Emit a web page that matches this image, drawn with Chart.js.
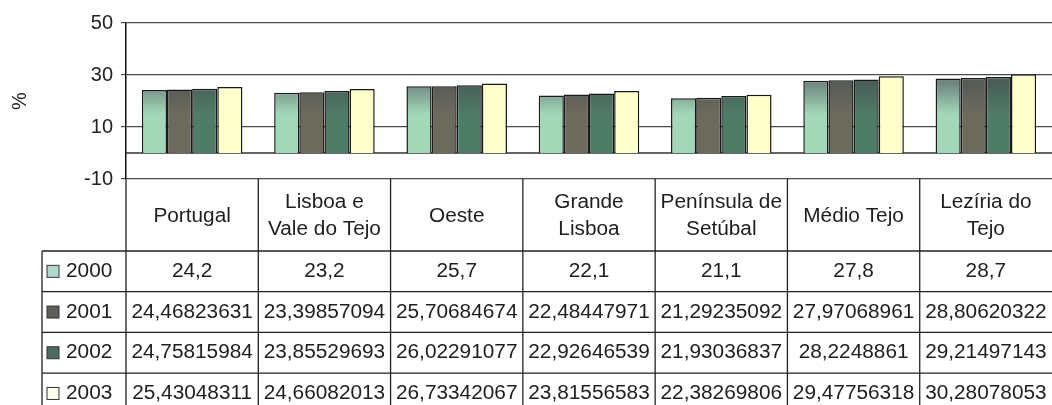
<!DOCTYPE html>
<html>
<head>
<meta charset="utf-8">
<script src="https://cdn.jsdelivr.net/npm/chart.js@4/dist/chart.umd.min.js"></script>
<style>
  body { margin: 0; background: #fff; }
  #wrap { width: 1052px; height: 405px; }
</style>
</head>
<body>
<div id="wrap"><canvas id="myChart"></canvas></div>
<script>
// categorias (linhas do cabeçalho da tabela)
const regioes = [
  ["Portugal"],
  ["Lisboa e", "Vale do Tejo"],
  ["Oeste"],
  ["Grande", "Lisboa"],
  ["Península de", "Setúbal"],
  ["Médio Tejo"],
  ["Lezíria do", "Tejo"]
];
const anos = ["2000", "2001", "2002", "2003"];
const v2000 = [24.2, 23.2, 25.7, 22.1, 21.1, 27.8, 28.7];
const v2001 = [24.46823631, 23.39857094, 25.70684674, 22.48447971, 21.29235092, 27.97068961, 28.80620322];
const v2002 = [24.75815984, 23.85529693, 26.02291077, 22.92646539, 21.93036837, 28.2248861, 29.21497143];
const v2003 = [25.43048311, 24.66082013, 26.73342067, 23.81556583, 22.38269806, 29.47756318, 30.28078053];
const yTicks = [-10, 10, 30, 50];

const FONT = '"Liberation Sans", Arial, sans-serif';
const SX = 1.04; // letra um pouco mais larga como no original

function gradBar(ctx, top, bottom) {
  const c = ctx.chart;
  const area = c.chartArea;
  if (!area) return top;
  const ys = c.scales.y;
  const g = c.ctx.createLinearGradient(0, ys.getPixelForValue(27), 0, ys.getPixelForValue(0));
  g.addColorStop(0, top);
  g.addColorStop(0.45, bottom);
  g.addColorStop(1, bottom);
  return g;
}

function txt(ctx, s, x, y, align) {
  ctx.save();
  ctx.translate(x, y);
  ctx.scale(SX, 1);
  ctx.textAlign = align;
  ctx.fillText(s, 0, 0);
  ctx.restore();
}

// linha do zero
const zeroLine = {
  id: 'zeroLine',
  beforeDatasetsDraw(chart) {
    const c = chart.ctx, a = chart.chartArea;
    const y = chart.scales.y.getPixelForValue(0);
    c.save();
    c.strokeStyle = '#333';
    c.lineWidth = 1.5;
    c.beginPath();
    c.moveTo(a.left, y);
    c.lineTo(a.right, y);
    c.stroke();
    c.restore();
  }
};

// tabela de dados por baixo do gráfico
const dataTable = {
  id: 'dataTable',
  afterDraw(chart) {
    const c = chart.ctx, a = chart.chartArea;
    const xs = chart.scales.x;
    const series = [v2000, v2001, v2002, v2003];
    const keyColors = ['#b2d6d0', '#5e5e5a', '#4f6b60', '#fffff0'];
    const top = a.bottom;
    const headH = 72, rowH = 40.7;
    const legL = 42;
    const bottom = 405;

    let bounds = [a.left];
    for (let i = 0; i < regioes.length - 1; i++) {
      bounds.push((xs.getPixelForValue(i) + xs.getPixelForValue(i + 1)) / 2);
    }
    bounds.push(a.right);

    c.save();
    c.strokeStyle = '#222';
    c.lineWidth = 1.3;
    // verticais
    c.beginPath();
    for (let i = 1; i < bounds.length - 1; i++) {
      c.moveTo(bounds[i], top);
      c.lineTo(bounds[i], bottom);
    }
    c.moveTo(a.left, top);
    c.lineTo(a.left, bottom);
    c.moveTo(legL, top + headH);
    c.lineTo(legL, bottom);
    // horizontais
    for (let r = 0; r < anos.length; r++) {
      const y = top + headH + r * rowH;
      c.moveTo(legL, y);
      c.lineTo(a.right, y);
    }
    c.stroke();

    c.fillStyle = '#1e1e1e';
    c.font = '20px ' + FONT;
    c.textBaseline = 'middle';
    // cabeçalho
    for (let i = 0; i < regioes.length; i++) {
      const cx = xs.getPixelForValue(i);
      const lines = regioes[i];
      const cy = top + headH / 2 + 1;
      const lh = 27;
      lines.forEach((t, k) => {
        txt(c, t, cx, cy + (k - (lines.length - 1) / 2) * lh, 'center');
      });
    }
    // linhas de valores
    for (let r = 0; r < anos.length; r++) {
      const cy = top + headH + r * rowH + rowH / 2;
      c.fillStyle = keyColors[r];
      c.fillRect(47, cy - 6, 12, 12);
      c.strokeStyle = '#333';
      c.lineWidth = 1;
      c.strokeRect(47, cy - 6, 12, 12);
      c.fillStyle = '#1e1e1e';
      txt(c, anos[r], 66, cy, 'left');
      series[r].forEach((v, i) => {
        txt(c, String(v).replace('.', ','), xs.getPixelForValue(i), cy, 'center');
      });
    }
    c.restore();
  }
};

new Chart(document.getElementById('myChart'), {
  type: 'bar',
  data: {
    labels: regioes.map(r => r.join(' ')),
    datasets: [
      { label: anos[0], data: v2000, backgroundColor: ctx => gradBar(ctx, '#6f8681', '#a2d8b8') },
      { label: anos[1], data: v2001, backgroundColor: ctx => gradBar(ctx, '#575b56', '#6c6a5c') },
      { label: anos[2], data: v2002, backgroundColor: ctx => gradBar(ctx, '#4a5e57', '#4e7c67') },
      { label: anos[3], data: v2003, backgroundColor: '#ffffcc' }
    ]
  },
  options: {
    responsive: true,
    maintainAspectRatio: false,
    animation: false,
    devicePixelRatio: 1,
    layout: { padding: { top: 23, bottom: 226, left: 0, right: 0 } },
    datasets: {
      bar: {
        borderColor: '#1a1a1a',
        borderWidth: 1.5,
        categoryPercentage: 0.76,
        barPercentage: 1.0
      }
    },
    plugins: {
      legend: { display: false },
      tooltip: { enabled: false }
    },
    scales: {
      x: { display: false },
      y: {
        min: -10,
        max: 50,
        afterBuildTicks: s => { s.ticks = yTicks.map(v => ({ value: v })); },
        afterFit: s => { s.width = 126; },
        ticks: { color: '#222', font: { family: FONT, size: 20 }, padding: 8 },
        grid: { color: '#4a4a4a', lineWidth: 1.2, tickLength: 5, drawTicks: true },
        border: { color: '#111', width: 1.5 },
        title: {
          display: true,
          text: '%',
          color: '#222',
          font: { family: FONT, size: 20 },
          padding: { top: 8, bottom: 0 }
        }
      }
    }
  },
  plugins: [zeroLine, dataTable]
});
</script>
</body>
</html>
